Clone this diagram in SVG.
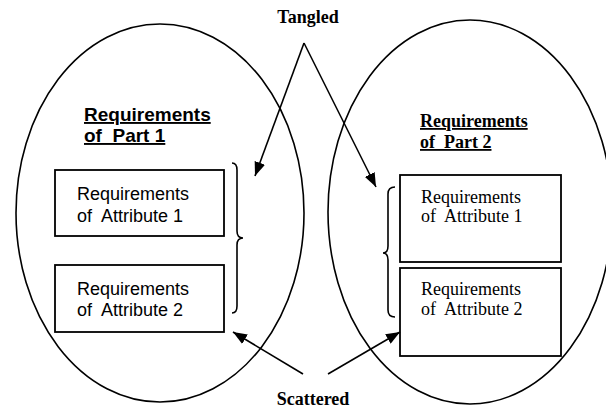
<svg xmlns="http://www.w3.org/2000/svg" width="606" height="409" viewBox="0 0 606 409">
<style>
.ell{fill:none;stroke:#000;stroke-width:1.6}
.box{fill:#fff;stroke:#000;stroke-width:1.8}
.br{fill:none;stroke:#000;stroke-width:1.6}
.ln{fill:none;stroke:#000;stroke-width:1.6;marker-end:url(#ah)}
.lab{font-family:"Liberation Serif",serif;font-weight:bold;font-size:18px;text-anchor:middle}
.t1{font-family:"Liberation Sans",Arial,sans-serif;font-weight:bold;font-size:19px;text-decoration:underline}
.t2{font-family:"Liberation Serif",serif;font-weight:bold;font-size:18px;text-decoration:underline}
.s{font-family:"Liberation Sans",Arial,sans-serif;font-size:18px}
.r{font-family:"Liberation Serif",serif;font-size:18px}
</style>
<defs>
<marker id="ah" viewBox="0 0 14 11" refX="14" refY="5.5" markerWidth="14" markerHeight="11" markerUnits="userSpaceOnUse" orient="auto">
<path d="M0,0 L14,5.5 L0,11 Z" fill="#000"/>
</marker>
</defs>
<rect width="606" height="409" fill="#fff"/>
<g id="part1">
<ellipse class="ell" cx="160" cy="213" rx="144" ry="189"/>
<text class="t1" x="84" y="121">Requirements</text>
<text class="t1" x="84" y="142" xml:space="preserve">of  Part 1</text>
</g>
<g id="part2">
<ellipse class="ell" cx="470" cy="212" rx="142" ry="192"/>
<text class="t2" x="420" y="127">Requirements</text>
<text class="t2" x="420" y="148" xml:space="preserve">of  Part 2</text>
</g>
<g id="p1attr1">
<rect class="box" x="55" y="170" width="169" height="66"/>
<text class="s" x="77" y="200">Requirements</text>
<text class="s" x="77" y="222" xml:space="preserve">of  Attribute 1</text>
</g>
<g id="p1attr2">
<rect class="box" x="55" y="265" width="169" height="67"/>
<text class="s" x="77" y="295">Requirements</text>
<text class="s" x="77" y="316" xml:space="preserve">of  Attribute 2</text>
</g>
<g id="p2attr1">
<rect class="box" x="400" y="175" width="161" height="87"/>
<text class="r" x="421" y="203">Requirements</text>
<text class="r" x="421" y="222" xml:space="preserve">of  Attribute 1</text>
</g>
<g id="p2attr2">
<rect class="box" x="400" y="268" width="161" height="88"/>
<text class="r" x="421" y="295">Requirements</text>
<text class="r" x="421" y="315" xml:space="preserve">of  Attribute 2</text>
</g>
<g id="brace1">
<path class="br" d="M232,163 Q237,163 237,170 L237,231 Q237,238 243,238 Q237,238 237,245 L237,306 Q237,313 232,313"/>
</g>
<g id="brace2">
<path class="br" d="M395,187 Q388,187 388,194 L388,246 Q388,253 383,253 Q388,253 388,260 L388,310 Q388,317 395,317"/>
</g>
<g id="tangled">
<text class="lab" x="308" y="23">Tangled</text>
</g>
<g id="scattered">
<text class="lab" x="313" y="405">Scattered</text>
</g>
<g id="connectors">
<path class="ln" d="M304,43 L255,176"/>
<path class="ln" d="M304,43 L376,187"/>
<path class="ln" d="M303,374 L233,332"/>
<path class="ln" d="M328,374 L400,332"/>
</g>
</svg>
